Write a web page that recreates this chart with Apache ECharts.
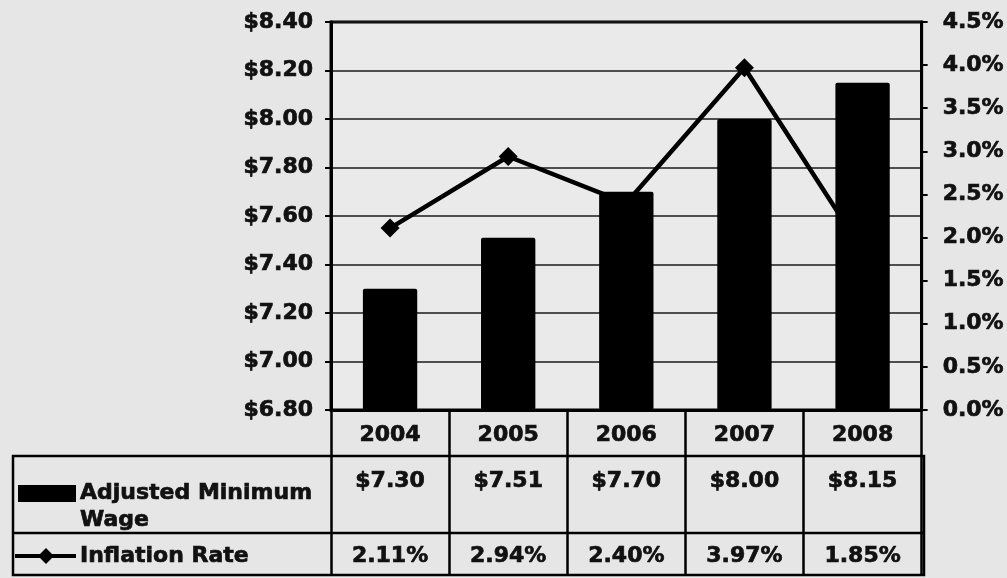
<!DOCTYPE html>
<html>
<head>
<meta charset="utf-8">
<title>Adjusted Minimum Wage and Inflation Rate</title>
<script src="https://cdn.jsdelivr.net/npm/echarts@6/dist/echarts.min.js"></script>
<style>
  html, body { margin: 0; padding: 0; background: #e6e6e6; }
  #chart { width: 1007px; height: 578px; }
</style>
</head>
<body>
<div id="chart"></div>
<script>
// data
var years = ['2004', '2005', '2006', '2007', '2008'];
var minWage = [7.30, 7.51, 7.70, 8.00, 8.15];
var inflation = [2.11, 2.94, 2.40, 3.97, 1.85];
var wageLabels = ['$7.30', '$7.51', '$7.70', '$8.00', '$8.15'];
var rateLabels = ['2.11%', '2.94%', '2.40%', '3.97%', '1.85%'];

var FONT = 'DejaVu Sans';
var INK = '#111';

var myChart = echarts.init(document.getElementById('chart'));
window.addEventListener('resize', function () { myChart.resize(); });

// plot box in pixels (window.top is reserved, hence the prefix)
var plotLeft = 331, plotRight = 924, plotTop = 22, plotBottom = 410, tableBottom = 575;

// heavy bold text, a thin outline makes it closer to the black scan
function labelStyle(extra) {
    var s = { color: INK, fontFamily: FONT, fontWeight: 'bold', fontSize: 22,
              textBorderColor: INK, textBorderWidth: 0.7 };
    for (var k in extra) s[k] = extra[k];
    return s;
}
function headerText(str, x, y) {
    return { type: 'text', x: x, y: y, z: 10,
             style: { text: str, fill: INK, font: 'bold 22px "DejaVu Sans"', verticalAlign: 'middle',
                      stroke: INK, lineWidth: 0.7 } };
}

var option = {
    backgroundColor: '#e6e6e6',
    animation: false,
    grid: {
        left: plotLeft, right: 1007 - plotRight, top: plotTop, bottom: 578 - plotBottom,
        show: true,
        backgroundColor: '#eaeaea',
        borderColor: '#000',
        borderWidth: 3
    },
    xAxis: [
        {   // years row + column lines of the table (long ticks)
            type: 'category',
            data: years,
            position: 'bottom',
            axisLine: { show: true, lineStyle: { color: '#000', width: 3 } },
            axisTick: { show: true, inside: false, length: tableBottom - plotBottom, lineStyle: { color: '#000', width: 2.5 } },
            axisLabel: labelStyle({ margin: 14 })
        },
        {   // wage row
            type: 'category',
            data: wageLabels,
            position: 'bottom',
            axisLine: { show: false },
            axisTick: { show: false },
            axisLabel: labelStyle({ margin: 60 })
        },
        {   // inflation row
            type: 'category',
            data: rateLabels,
            position: 'bottom',
            axisLine: { show: false },
            axisTick: { show: false },
            axisLabel: labelStyle({ margin: 135 })
        }
    ],
    yAxis: [
        {
            type: 'value',
            min: 6.8,
            max: 8.4,
            interval: 0.2,
            axisLine: { show: true, lineStyle: { color: '#000', width: 3 } },
            axisTick: { show: true, length: 6, lineStyle: { color: '#000', width: 2 } },
            axisLabel: labelStyle({ margin: 18, formatter: function (v) { return '$' + v.toFixed(2); } }),
            splitLine: { show: true, lineStyle: { color: '#1a1a1a', width: 1.6 } }
        },
        {
            type: 'value',
            min: 0,
            max: 4.5,
            interval: 0.5,
            position: 'right',
            axisLine: { show: true, lineStyle: { color: '#000', width: 3 } },
            axisTick: { show: true, length: 6, lineStyle: { color: '#000', width: 2 } },
            axisLabel: labelStyle({ margin: 21, formatter: function (v) { return v.toFixed(1) + '%'; } }),
            splitLine: { show: false }
        }
    ],
    series: [
        {
            name: 'Adjusted Minimum Wage',
            type: 'bar',
            data: minWage,
            barWidth: '46%',
            z: 3,
            itemStyle: { color: '#000', borderRadius: 2 }
        },
        {
            name: 'Inflation Rate',
            type: 'line',
            yAxisIndex: 1,
            data: inflation,
            z: 1,
            symbol: 'diamond',
            symbolSize: 19,
            lineStyle: { color: '#000', width: 4.5 },
            itemStyle: { color: '#000' }
        }
    ],
    // frame and row headers of the data table
    graphic: [
        { type: 'rect', shape: { x: 13, y: 456, width: plotRight - 13, height: tableBottom - 456 },
          style: { fill: 'none', stroke: '#000', lineWidth: 2.5 }, z: 10 },
        { type: 'line', shape: { x1: 13, y1: 533, x2: plotRight, y2: 533 },
          style: { stroke: '#000', lineWidth: 2.5 }, z: 10 },
        { type: 'rect', shape: { x: 18, y: 485, width: 58, height: 17 },
          style: { fill: '#000' }, z: 10 },
        headerText('Adjusted Minimum', 80, 493),
        headerText('Wage', 80, 520),
        { type: 'line', shape: { x1: 15, y1: 556, x2: 76, y2: 556 },
          style: { stroke: '#000', lineWidth: 4 }, z: 10 },
        { type: 'polygon', shape: { points: [[46, 548], [54, 556], [46, 564], [38, 556]] },
          style: { fill: '#000' }, z: 10 },
        headerText('Inflation Rate', 80, 556)
    ]
};

myChart.setOption(option);
</script>
</body>
</html>
